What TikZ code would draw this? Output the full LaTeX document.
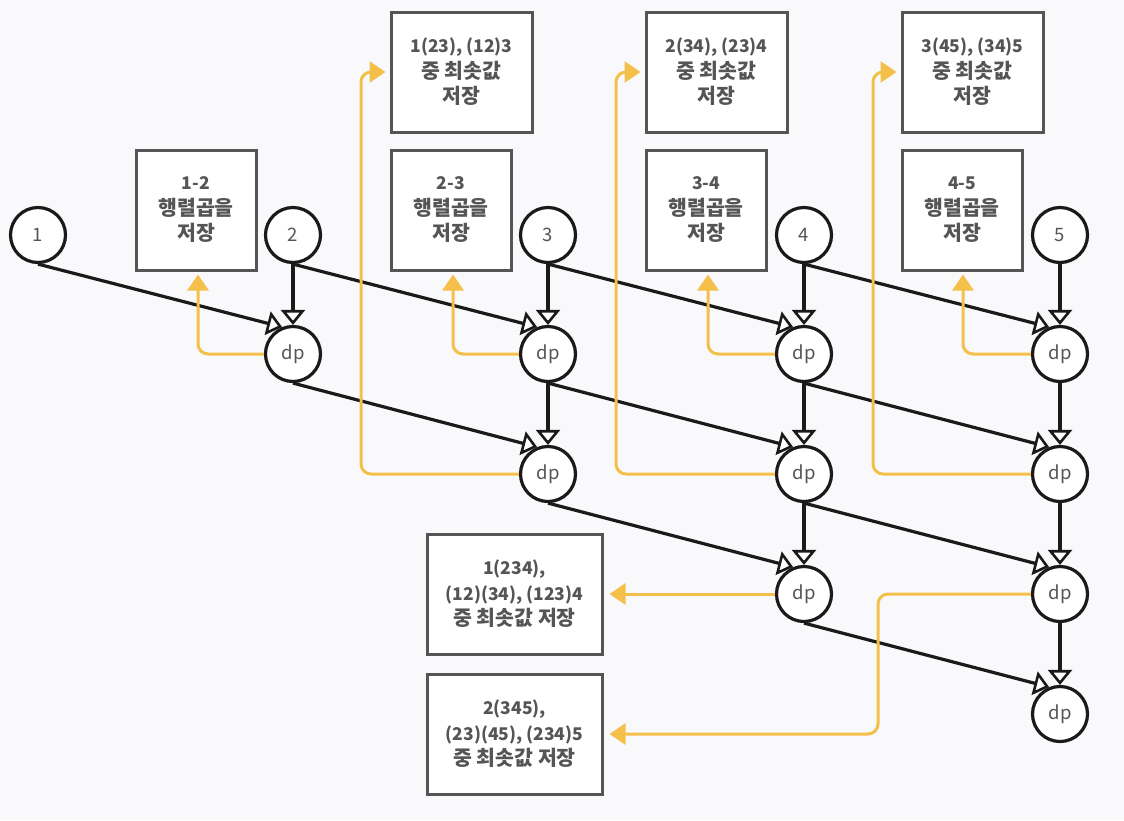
\documentclass[tikz,border=0pt]{standalone}
\usepackage{fontspec}
\newfontfamily\kr{Noto Sans CJK KR}
\newcommand\hk[1]{{\fontsize{20.5}{25.5}\selectfont #1}}
\usetikzlibrary{arrows.meta,calc}
\definecolor{bg}{HTML}{F9F9FB}
\definecolor{ink}{HTML}{1A1A1A}
\definecolor{txt}{HTML}{555555}
\definecolor{boxline}{HTML}{555555}
\definecolor{gold}{HTML}{F4C04A}
\tikzset{
  cnode/.style={circle,draw=ink,fill=white,line width=3.2pt,minimum size=55pt,inner sep=0pt,
    font=\kr\fontsize{18.5}{22}\selectfont,text=txt},
  sbox/.style={rectangle,draw=boxline,fill=white,line width=3pt,minimum width=120pt,minimum height=120pt,
    inner sep=2pt,align=center,font=\kr\bfseries\fontsize{17.5}{25.5}\selectfont,text=txt},
  flow/.style={draw=ink,line width=3.2pt,-{Triangle[open,length=15pt,width=24pt,fill=white,line width=2.6pt]}},
  gflow/.style={draw=gold,line width=3pt,rounded corners=10pt,-{Triangle[length=16pt,width=21pt]}}
}
\begin{document}
\begin{tikzpicture}[x=1pt,y=-1pt]
\fill[bg] (0,0) rectangle (1124,820);
\useasboundingbox (0,0) rectangle (1124,820);
% input circles
\node[cnode] (n1) at (38,235) {1};
\node[cnode] (n2) at (293,235) {2};
\node[cnode] (n3) at (548,235) {3};
\node[cnode] (n4) at (804,235) {4};
\node[cnode] (n5) at (1060,235) {5};
% dp nodes
\node[cnode] (d12) at (293,354) {dp};
\node[cnode] (d23) at (548,354) {dp};
\node[cnode] (d34) at (804,354) {dp};
\node[cnode] (d45) at (1060,354) {dp};
\node[cnode] (d13) at (548,474) {dp};
\node[cnode] (d24) at (804,474) {dp};
\node[cnode] (d35) at (1060,474) {dp};
\node[cnode] (d14) at (804,594) {dp};
\node[cnode] (d25) at (1060,594) {dp};
\node[cnode] (d15) at (1060,714) {dp};
% boxes
\node[sbox] (b12) at (196,210) {1-2\\\hk{행렬곱을}\\\hk{저장}};
\node[sbox] (b23) at (451,210) {2-3\\\hk{행렬곱을}\\\hk{저장}};
\node[sbox] (b34) at (706,210) {3-4\\\hk{행렬곱을}\\\hk{저장}};
\node[sbox] (b45) at (962,210) {4-5\\\hk{행렬곱을}\\\hk{저장}};
\node[sbox,minimum width=141pt] (t13) at (461.5,72) {1(23), (12)3\\\hk{중 최솟값}\\\hk{저장}};
\node[sbox,minimum width=141pt] (t24) at (716.5,72) {2(34), (23)4\\\hk{중 최솟값}\\\hk{저장}};
\node[sbox,minimum width=141pt] (t35) at (972.5,72) {3(45), (34)5\\\hk{중 최솟값}\\\hk{저장}};
\node[sbox,minimum width=175pt] (b14) at (514.5,594) {1(234),\\(12)(34), (123)4\\\hk{중 최솟값 저장}};
\node[sbox,minimum width=175pt] (b25) at (514.5,734) {2(345),\\(23)(45), (234)5\\\hk{중 최솟값 저장}};
% black connectors
\foreach \a/\b in {n1/d12,n2/d23,n3/d34,n4/d45,d12/d13,d23/d24,d34/d35,d13/d14,d24/d25,d14/d15}
  \draw[flow] (\a.south) -- (\b.112);
\foreach \a/\b in {n2/d12,n3/d23,n4/d34,n5/d45,d23/d13,d34/d24,d45/d35,d24/d14,d35/d25,d25/d15}
  \draw[flow] (\a.south) -- (\b.north);
% gold connectors
\draw[gflow,shorten >=3pt] (d12.west) -| ($(b12.south)+(2,0)$);
\draw[gflow,shorten >=3pt] (d23.west) -| ($(b23.south)+(2,0)$);
\draw[gflow,shorten >=3pt] (d34.west) -| ($(b34.south)+(2,0)$);
\draw[gflow,shorten >=3pt] (d45.west) -| ($(b45.south)+(1,0)$);
\coordinate (c13) at (361,72);
\coordinate (c24) at (616,72);
\coordinate (c35) at (873,72);
\draw[gflow,shorten >=4pt] (d13.west) -| (c13) -- (t13.west);
\draw[gflow,shorten >=4pt] (d24.west) -| (c24) -- (t24.west);
\draw[gflow,shorten >=4pt] (d35.west) -| (c35) -- (t35.west);
\draw[gflow,shorten >=6pt] (d14.west) -- (b14.east);
\coordinate (c25) at (878,734);
\draw[gflow,shorten >=6pt] (d25.west) -| (c25) -- (b25.east);
\end{tikzpicture}
\end{document}
